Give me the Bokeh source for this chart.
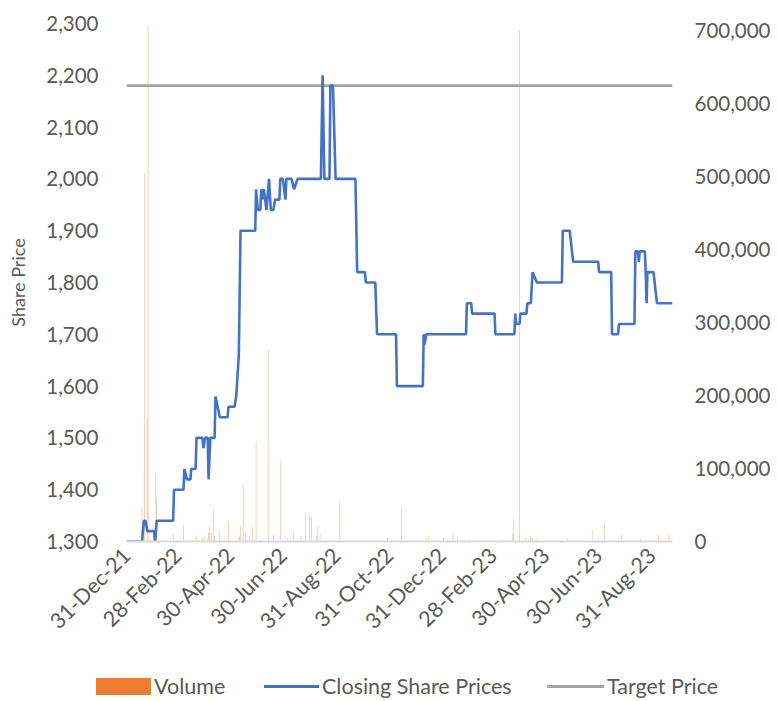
import pandas as pd
from bokeh.plotting import figure
from bokeh.layouts import column
from bokeh.models import (Range1d, LinearAxis, FixedTicker, NumeralTickFormatter,
                          DatetimeTickFormatter, ColumnDataSource, Div)
from bokeh.embed import file_html
from bokeh.resources import INLINE
from math import pi

# ---------------- data ----------------
price_dates = [
    "2021-12-31", "2022-01-18", "2022-01-20", "2022-01-22", "2022-01-24", "2022-02-01",
    "2022-02-02", "2022-02-04", "2022-02-23", "2022-02-24", "2022-03-07", "2022-03-08",
    "2022-03-11", "2022-03-15", "2022-03-16", "2022-03-21", "2022-03-22", "2022-03-29",
    "2022-03-30", "2022-04-01", "2022-04-04", "2022-04-05", "2022-04-07", "2022-04-12",
    "2022-04-13", "2022-04-18", "2022-04-27", "2022-04-28", "2022-05-05", "2022-05-07",
    "2022-05-10", "2022-05-12", "2022-05-29", "2022-05-30", "2022-06-01", "2022-06-04",
    "2022-06-05", "2022-06-06", "2022-06-08", "2022-06-11", "2022-06-14", "2022-06-16",
    "2022-06-19", "2022-06-21", "2022-06-26", "2022-06-27", "2022-06-30", "2022-07-03",
    "2022-07-04", "2022-07-10", "2022-07-13", "2022-07-17", "2022-08-13", "2022-08-15",
    "2022-08-17", "2022-08-23", "2022-08-24", "2022-08-27", "2022-08-30", "2022-09-22",
    "2022-09-24", "2022-10-03", "2022-10-04", "2022-10-15", "2022-10-17", "2022-11-08",
    "2022-11-09", "2022-12-09", "2022-12-10", "2022-12-11", "2022-12-13", "2023-01-28",
    "2023-01-29", "2023-02-03", "2023-02-04", "2023-03-02", "2023-03-03", "2023-03-25",
    "2023-03-26", "2023-03-27", "2023-03-31", "2023-04-01", "2023-04-08", "2023-04-09",
    "2023-04-13", "2023-04-15", "2023-04-20", "2023-05-19", "2023-05-20", "2023-05-28",
    "2023-06-01", "2023-06-30", "2023-07-01", "2023-07-15", "2023-07-16", "2023-07-23",
    "2023-07-24", "2023-08-11", "2023-08-12", "2023-08-15", "2023-08-16", "2023-08-17",
    "2023-08-23", "2023-08-24", "2023-08-25", "2023-08-26", "2023-09-02", "2023-09-06",
    "2023-09-24",
]
price_values = [
    1300, 1300, 1340, 1340, 1320, 1320,
    1300, 1340, 1340, 1400, 1400, 1440,
    1420, 1420, 1440, 1440, 1500, 1500,
    1480, 1500, 1500, 1420, 1500, 1500,
    1580, 1540, 1540, 1560, 1560, 1580,
    1660, 1900, 1900, 1980, 1940, 1940,
    1980, 1960, 1980, 1940, 2000, 1940,
    1940, 1960, 1960, 2000, 2000, 1960,
    2000, 2000, 1980, 2000, 2000, 2200,
    2000, 2000, 2180, 2180, 2000, 2000,
    1820, 1820, 1800, 1800, 1700, 1700,
    1600, 1600, 1700, 1680, 1700, 1700,
    1760, 1760, 1740, 1740, 1700, 1700,
    1740, 1720, 1720, 1740, 1740, 1760,
    1760, 1820, 1800, 1800, 1900, 1900,
    1840, 1840, 1820, 1820, 1700, 1700,
    1720, 1720, 1860, 1860, 1840, 1860,
    1860, 1820, 1760, 1820, 1820, 1760,
    1760,
]

volume_dates = [
    "2022-01-18", "2022-01-21", "2022-01-24", "2022-01-25", "2022-02-03", "2022-02-04",
    "2022-02-23", "2022-03-07", "2022-03-09", "2022-03-22", "2022-03-29", "2022-03-31",
    "2022-04-05", "2022-04-06", "2022-04-08", "2022-04-11", "2022-04-12", "2022-04-18",
    "2022-04-28", "2022-05-10", "2022-05-11", "2022-05-12", "2022-05-15", "2022-05-18",
    "2022-05-22", "2022-05-26", "2022-05-30", "2022-06-07", "2022-06-13", "2022-06-19",
    "2022-06-27", "2022-07-05", "2022-07-12", "2022-07-21", "2022-07-26", "2022-07-31",
    "2022-08-02", "2022-08-08", "2022-08-09", "2022-08-12", "2022-09-04", "2022-10-29",
    "2022-11-14", "2022-12-13", "2022-12-16", "2023-01-02", "2023-01-13", "2023-01-18",
    "2023-02-01", "2023-03-11", "2023-03-23", "2023-03-24", "2023-03-31", "2023-04-07",
    "2023-04-13", "2023-04-15", "2023-04-19", "2023-05-25", "2023-06-23", "2023-07-07",
    "2023-07-27", "2023-08-18", "2023-08-25", "2023-09-08", "2023-09-20",
]
volume_values = [
    48000, 504000, 170000, 708000, 94000, 60000,
    11000, 23000, 3000, 7000, 5000, 6000,
    12000, 23000, 12000, 45000, 8000, 14000,
    27000, 5000, 8000, 20000, 78000, 12000,
    8000, 20000, 137000, 4000, 264000, 10000,
    111000, 5000, 14000, 8000, 39000, 37000,
    34000, 9000, 20000, 10000, 56000, 5000,
    46000, 5000, 8000, 5000, 12000, 6000,
    3000, 3000, 12000, 31000, 700000, 5000,
    8000, 5000, 3000, 4000, 16000, 23000,
    10000, 4000, 3000, 9000, 10000,
]

target_dates = ["2021-12-31", "2023-09-24"]
target_values = [2180, 2180]

tick_dates = ["2021-12-31", "2022-02-28", "2022-04-30", "2022-06-30", "2022-08-31",
              "2022-10-31", "2022-12-31", "2023-02-28", "2023-04-30", "2023-06-30",
              "2023-08-31"]
price_ticks = [1300, 1400, 1500, 1600, 1700, 1800, 1900, 2000, 2100, 2200, 2300]
volume_ticks = [0, 100000, 200000, 300000, 400000, 500000, 600000, 700000]

legend_labels = ["Volume", "Closing Share Prices", "Target Price"]

# ---------------- figure ----------------
FONT = "Lato"
GREY = "#595959"
ORANGE = "#ED7D31"
BLUE = "#4472C4"
TGREY = "#A5A5A5"
DAY_MS = 86400000
W = 773

pdates = pd.to_datetime(price_dates)
vdates = pd.to_datetime(volume_dates)
tdates = pd.to_datetime(target_dates)

p = figure(width=W, height=656, x_axis_type="datetime",
           output_backend="svg", toolbar_location=None,
           x_range=Range1d(tdates[0], tdates[1]),
           y_range=Range1d(1300, 2300),
           min_border_left=126, min_border_right=100,
           min_border_top=23, min_border_bottom=115)
p.outline_line_color = None
p.xgrid.visible = False
p.ygrid.visible = False

p.extra_y_ranges = {"vol": Range1d(0, 709600)}

vol_src = ColumnDataSource(dict(x=vdates, top=volume_values))
p.vbar(x="x", top="top", width=0.7 * DAY_MS, source=vol_src,
       y_range_name="vol", fill_color=ORANGE, line_color=None, fill_alpha=0.55)
p.line(tdates, target_values, line_color=TGREY, line_width=2.6)
p.line(pdates, price_values, line_color=BLUE, line_width=2.6)

# left axis
ya = p.yaxis[0]
ya.ticker = FixedTicker(ticks=price_ticks)
ya.formatter = NumeralTickFormatter(format="0,0")
ya.axis_line_color = None
ya.major_tick_line_color = None
ya.minor_tick_line_color = None
ya.major_tick_out = 0
ya.major_tick_in = 0
ya.minor_tick_out = 0
ya.major_label_text_font = FONT
ya.major_label_text_font_size = "20.5px"
ya.major_label_text_color = GREY
ya.major_label_standoff = 28
ya.axis_label = "Share Price"
ya.axis_label_text_font = FONT
ya.axis_label_text_font_size = "18px"
ya.axis_label_text_font_style = "normal"
ya.axis_label_text_color = GREY
ya.axis_label_standoff = 14

# right axis
ra = LinearAxis(y_range_name="vol")
ra.ticker = FixedTicker(ticks=volume_ticks)
ra.formatter = NumeralTickFormatter(format="0,0")
ra.axis_line_color = None
ra.major_tick_line_color = None
ra.minor_tick_line_color = None
ra.major_tick_out = 0
ra.major_tick_in = 0
ra.minor_tick_out = 0
ra.major_label_text_font = FONT
ra.major_label_text_font_size = "20.5px"
ra.major_label_text_color = GREY
ra.major_label_standoff = 22
p.add_layout(ra, "right")

# x axis
xa = p.xaxis[0]
xa.ticker = FixedTicker(ticks=[d.value // 10**6 for d in pd.to_datetime(tick_dates)])
fmt = "%d-%b-%y"
xa.formatter = DatetimeTickFormatter(milliseconds=fmt, seconds=fmt, minsec=fmt,
                                     minutes=fmt, hourmin=fmt, hours=fmt, days=fmt,
                                     months=fmt, years=fmt)
xa.major_label_orientation = pi / 4
xa.axis_line_color = "#D9D9D9"
xa.axis_line_width = 2
xa.major_tick_line_color = None
xa.minor_tick_line_color = None
xa.major_tick_out = 0
xa.major_tick_in = 0
xa.minor_tick_out = 0
xa.major_label_text_font = FONT
xa.major_label_text_font_size = "21.5px"
xa.major_label_text_color = GREY
xa.major_label_standoff = 10

# ---------------- legend strip (HTML) ----------------
sw = "position:absolute;"
txt = "position:absolute;top:17px;line-height:26px;white-space:nowrap;"
html = (
    f'<div style="position:relative;width:{W}px;height:42px;font-family:{FONT};'
    f'font-size:21.5px;color:{GREY};">'
    f'<div style="{sw}left:96px;top:22px;width:55px;height:17px;background:{ORANGE};"></div>'
    f'<span style="{txt}left:154px;">{legend_labels[0]}</span>'
    f'<div style="{sw}left:264px;top:29px;width:55px;height:3px;background:{BLUE};"></div>'
    f'<span style="{txt}left:322px;">{legend_labels[1]}</span>'
    f'<div style="{sw}left:547px;top:29px;width:57px;height:3px;background:{TGREY};"></div>'
    f'<span style="{txt}left:607px;">{legend_labels[2]}</span>'
    '</div>'
)
legend_div = Div(text=html, width=W, height=42, margin=0)

layout = column(p, legend_div, spacing=0)
open("out.html", "w").write(file_html(layout, INLINE))
